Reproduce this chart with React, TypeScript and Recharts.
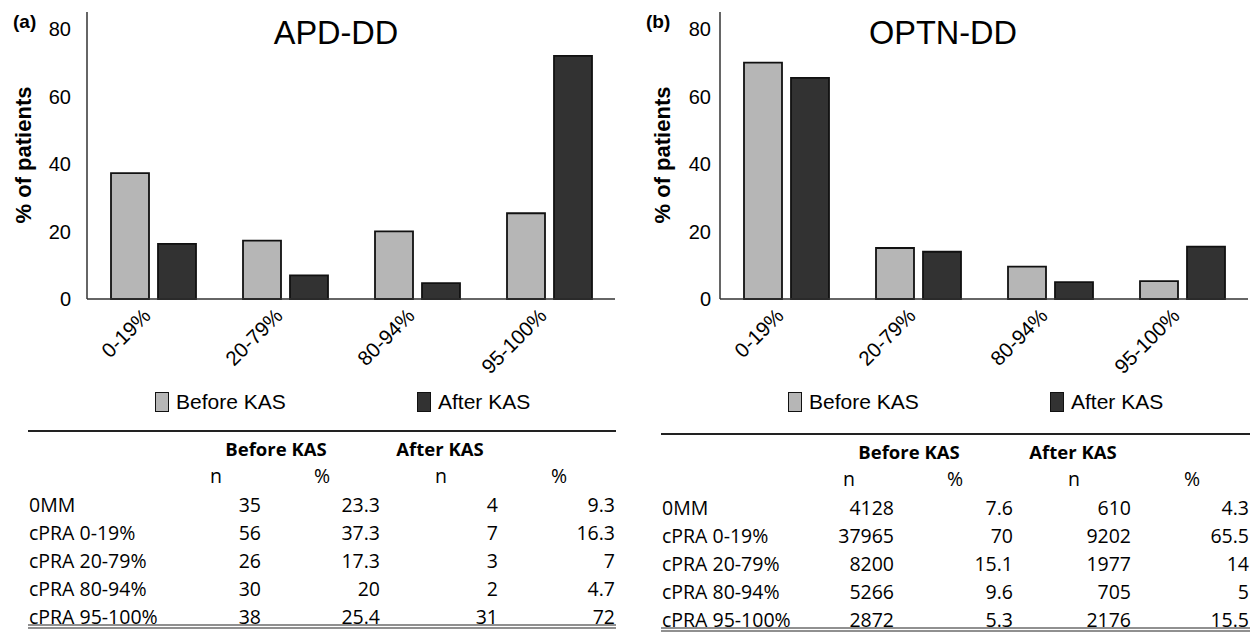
import React from "react";
import { BarChart, Bar, XAxis, YAxis, Legend } from "recharts";

// cPRA groups on the x axis
const categories = ["0-19%", "20-79%", "80-94%", "95-100%"];
const yTicks = [0, 20, 40, 60, 80];

// table rows (row 0 is 0MM, the rest match the bars)
const rowLabels = ["0MM", "cPRA 0-19%", "cPRA 20-79%", "cPRA 80-94%", "cPRA 95-100%"];

const apdBeforeN = [35, 56, 26, 30, 38];
const apdBeforePct = [23.3, 37.3, 17.3, 20, 25.4];
const apdAfterN = [4, 7, 3, 2, 31];
const apdAfterPct = [9.3, 16.3, 7, 4.7, 72];

const optnBeforeN = [4128, 37965, 8200, 5266, 2872];
const optnBeforePct = [7.6, 70, 15.1, 9.6, 5.3];
const optnAfterN = [610, 9202, 1977, 705, 2176];
const optnAfterPct = [4.3, 65.5, 14, 5, 15.5];

const FILLS: Record<string, string> = { before: "#b6b6b6", after: "#323232" };
const LEGEND_X: Record<string, number> = { before: 155, after: 417 };
const ARIAL = "'Liberation Sans', Arial, sans-serif";
const TABLE_FONT = "'Open Sans', 'Noto Sans', sans-serif";

const buildRows = (before: number[], after: number[]) =>
  categories.map((cat, i) => ({ cat, before: before[i + 1], after: after[i + 1] }));

function RotatedTick(props: any) {
  const { x, y, payload } = props;
  const ax = x - 1;
  const ay = y + 18;
  return (
    <text
      x={ax}
      y={ay}
      transform={`rotate(-45 ${ax} ${ay})`}
      textAnchor="end"
      fontSize={20.5}
      fontFamily={ARIAL}
      fill="#000"
    >
      {payload.value}
    </text>
  );
}

function KasLegend(props: any) {
  const { payload } = props;
  return (
    <div style={{ position: "relative", width: 620, height: 28 }}>
      {(payload || []).map((e: any) => (
        <div
          key={e.value}
          style={{
            position: "absolute",
            left: LEGEND_X[e.dataKey],
            top: 0,
            height: 28,
            display: "flex",
            alignItems: "center",
          }}
        >
          <span
            style={{
              display: "inline-block",
              width: 12,
              height: 18,
              background: FILLS[e.dataKey],
              border: "1.5px solid #111",
            }}
          />
          <span style={{ marginLeft: 7, fontSize: 21, fontFamily: ARIAL, color: "#000" }}>
            {e.value}
          </span>
        </div>
      ))}
    </div>
  );
}

interface PanelProps {
  left: number;
  letter: string;
  title: string;
  titleX: number;
  tickGap: number;
  yLabelX: number;
  tableDy: number;
  tableRight: number;
  beforeN: number[];
  beforePct: number[];
  afterN: number[];
  afterPct: number[];
}

function Panel(p: PanelProps) {
  const data = buildRows(p.beforePct, p.afterPct);
  const d = p.tableDy;
  const valueCols = [
    { vals: p.beforeN, right: 261 },
    { vals: p.beforePct, right: 380 },
    { vals: p.afterN, right: 498 },
    { vals: p.afterPct, right: p.tableRight },
  ];
  const subHeads = [
    { t: "n", x: 216 },
    { t: "%", x: 322 },
    { t: "n", x: 441 },
    { t: "%", x: 559 },
  ];
  return (
    <div style={{ position: "absolute", left: p.left, top: 0, width: 620, height: 632 }}>
      <BarChart
        width={620}
        height={420}
        data={data}
        margin={{ top: 12, right: 5, left: 0, bottom: 61 }}
        barSize={38}
        barGap={9}
      >
        <XAxis
          dataKey="cat"
          interval={0}
          height={60}
          tickLine={false}
          tickSize={0}
          tickMargin={0}
          axisLine={{ stroke: "#333", strokeWidth: 1.5 }}
          tick={(t: any) => <RotatedTick {...t} />}
        />
        <YAxis
          domain={[0, 85]}
          ticks={yTicks}
          width={87}
          tickLine={false}
          tickSize={0}
          tickMargin={p.tickGap}
          axisLine={{ stroke: "#333", strokeWidth: 1.5 }}
          tick={{ fill: "#000", fontSize: 20, fontFamily: ARIAL }}
        />
        <Legend
          layout="vertical"
          align="center"
          verticalAlign="middle"
          wrapperStyle={{ left: 0, top: 388, width: 620 }}
          content={(lp: any) => <KasLegend {...lp} />}
        />
        <Bar
          dataKey="before"
          name="Before KAS"
          fill={FILLS.before}
          stroke="#111"
          strokeWidth={1.8}
          isAnimationActive={false}
        />
        <Bar
          dataKey="after"
          name="After KAS"
          fill={FILLS.after}
          stroke="#111"
          strokeWidth={1.8}
          isAnimationActive={false}
        />
      </BarChart>

      <svg
        width={620}
        height={632}
        style={{ position: "absolute", left: 0, top: 0, pointerEvents: "none" }}
      >
        <text x={13} y={28} fontSize={19} fontWeight="bold" fontFamily={ARIAL}>
          {p.letter}
        </text>
        <text x={p.titleX} y={44} fontSize={32.5} textAnchor="middle" fontFamily={ARIAL}>
          {p.title}
        </text>
        <text
          x={p.yLabelX}
          y={155}
          transform={`rotate(-90 ${p.yLabelX} 155)`}
          textAnchor="middle"
          dominantBaseline="central"
          fontSize={22}
          fontWeight="bold"
          fontFamily={ARIAL}
        >
          % of patients
        </text>

        {/* table */}
        <line x1={28} x2={p.tableRight + 1} y1={431 + d} y2={431 + d} stroke="#222" strokeWidth={2} />
        <g fontFamily={TABLE_FONT} fontSize={19.5} fill="#000">
          <text x={276} y={456 + d} textAnchor="middle" fontWeight="bold" fontSize={18.5}>
            Before KAS
          </text>
          <text x={440} y={456 + d} textAnchor="middle" fontWeight="bold" fontSize={18.5}>
            After KAS
          </text>
          {subHeads.map((s, i) => (
            <text key={i} x={s.x} y={483 + d} textAnchor="middle">
              {s.t}
            </text>
          ))}
          {rowLabels.map((lab, r) => (
            <g key={lab}>
              <text x={29} y={512 + r * 28 + d}>
                {lab}
              </text>
              {valueCols.map((c, ci) => (
                <text key={ci} x={c.right} y={512 + r * 28 + d} textAnchor="end">
                  {String(c.vals[r])}
                </text>
              ))}
            </g>
          ))}
        </g>
        <line x1={28} x2={p.tableRight + 1} y1={625 + d} y2={625 + d} stroke="#222" strokeWidth={1.2} />
        <line x1={28} x2={p.tableRight + 1} y1={628 + d} y2={628 + d} stroke="#222" strokeWidth={1.2} />
      </svg>
    </div>
  );
}

export default function App() {
  return (
    <div
      style={{
        position: "absolute",
        left: 0,
        top: 0,
        width: 1252,
        height: 632,
        background: "#fff",
        overflow: "hidden",
      }}
    >
      <Panel
        left={0}
        letter="(a)"
        title="APD-DD"
        titleX={336}
        tickGap={16}
        yLabelX={23}
        tableDy={0}
        tableRight={615}
        beforeN={apdBeforeN}
        beforePct={apdBeforePct}
        afterN={apdAfterN}
        afterPct={apdAfterPct}
      />
      <Panel
        left={633}
        letter="(b)"
        title="OPTN-DD"
        titleX={310}
        tickGap={9}
        yLabelX={29}
        tableDy={3}
        tableRight={616}
        beforeN={optnBeforeN}
        beforePct={optnBeforePct}
        afterN={optnAfterN}
        afterPct={optnAfterPct}
      />
    </div>
  );
}
